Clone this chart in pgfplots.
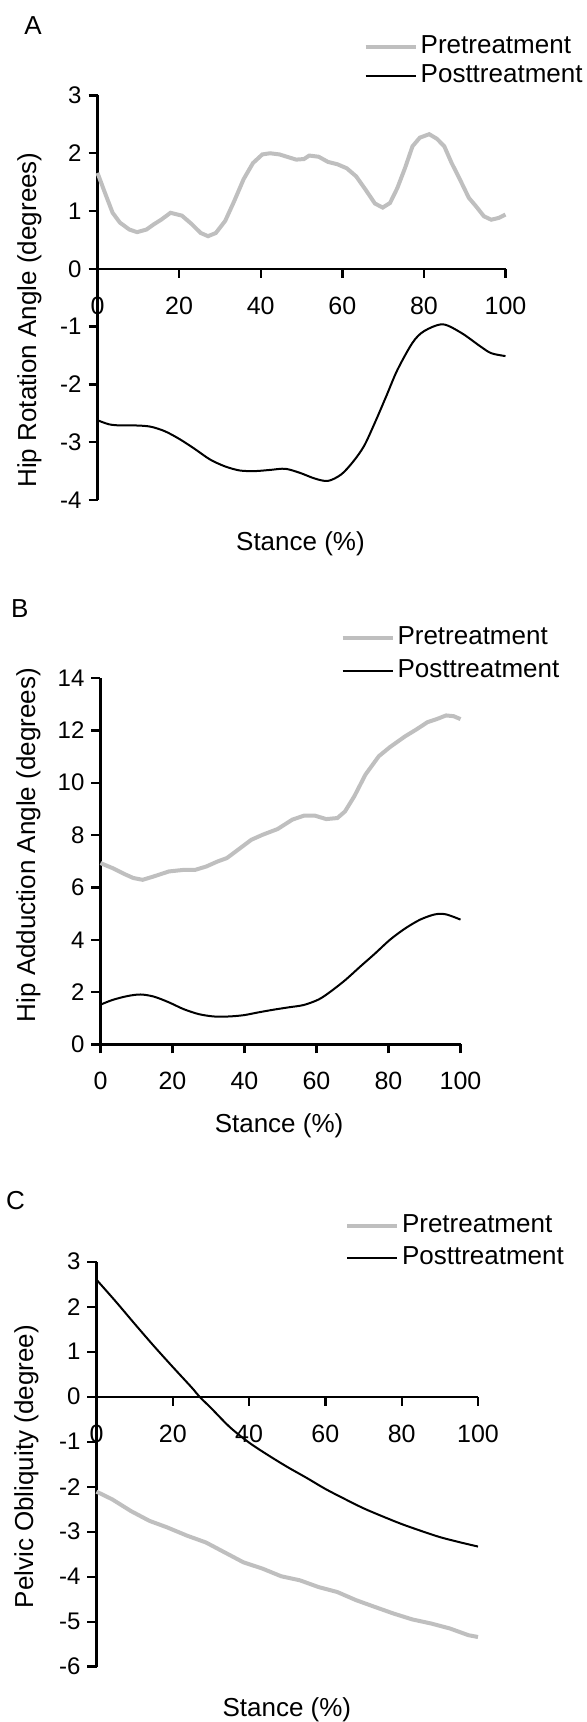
\documentclass[border=0pt]{standalone}
\usepackage{fontspec}
\setmainfont{Liberation Sans}
\usepackage{pgfplots}
\pgfplotsset{compat=1.18}
\definecolor{pregray}{RGB}{191,191,191}

\pgfplotsset{
  gaitaxis/.style={
    scale only axis, anchor=south west,
    xmin=0, xmax=100,
    axis x line=middle, axis y line=left,
    axis line style={-, line width=1.2pt, black},
    every tick/.style={black, line width=1.2pt},
    major tick length=4.5pt,
    tick align=outside,
    hide obscured x ticks=false, hide obscured y ticks=false,
    xtick={0,20,40,60,80,100}, xticklabels={0,20,40,60,80,100},
    x tick label style={font=\fontsize{12.5}{14}\selectfont, anchor=center, yshift=-13.9pt},
    y tick label style={font=\fontsize{12}{14}\selectfont},
    clip=false,
    legend cell align=left,
    legend image code/.code={\draw[##1] (0pt,0pt) -- (25pt,0pt);},
    legend style={draw=none, fill=none, inner sep=0pt, outer sep=0pt, anchor=north west,
      font=\fontsize{13}{15}\selectfont, column sep=1.5pt,
      nodes={inner sep=0pt, text height=9.5pt, text depth=3pt}},
    every axis x label/.style={anchor=center, font=\fontsize{13}{15}\selectfont},
    every axis y label/.style={anchor=center, rotate=90, font=\fontsize{13}{15}\selectfont},
  },
  pre/.style={color=pregray, line width=2pt},
  post/.style={color=black, line width=1pt, smooth},
}

\begin{document}
\begin{tikzpicture}
\useasboundingbox (0,0) rectangle (293pt,861pt);

% ---------------- Panel A ----------------
\begin{axis}[gaitaxis, at={(48.75pt,611pt)}, width=204pt, height=202.25pt,
  ymin=-4, ymax=3, ytick={-4,-3,-2,-1,0,1,2,3}, yticklabels={-4,-3,-2,-1,0,1,2,3},
  xlabel={Stance (\%)}, ylabel={Hip Rotation Angle (degrees)},
  xlabel style={at={(axis description cs:0.4975,-0.109)}},
  ylabel style={at={(axis description cs:-0.1667,0.445)}},
  legend style={at={(axis description cs:0.6525,1.151)}, row sep=2pt}]
\addplot[pre] coordinates {
(0,1.66) (1.8,1.32) (3.7,0.97) (5.5,0.80) (7.8,0.68) (9.7,0.635) (12,0.68) (13.8,0.77)
(15.6,0.85) (17.9,0.97) (20.7,0.92) (23,0.78) (25.3,0.62) (27.1,0.565) (29,0.62) (31.3,0.83)
(33.5,1.17) (35.8,1.55) (38.1,1.83) (40.4,1.98) (42.3,2.0) (44.6,1.98) (46.4,1.94) (48.7,1.89)
(50.6,1.90) (51.9,1.96) (54.2,1.94) (56.5,1.85) (58.8,1.81) (61.1,1.74) (63.4,1.60) (65.7,1.37)
(68,1.13) (69.9,1.06) (71.7,1.14) (73.5,1.40) (75.4,1.75) (77.2,2.12) (79,2.27) (81.3,2.33)
(83.2,2.25) (85,2.12) (86.8,1.83) (88.6,1.58) (91,1.23) (92.8,1.08) (94.7,0.91) (96.5,0.85)
(98.3,0.88) (100,0.94)};
\addlegendentry{Pretreatment}
\addplot[post] coordinates {
(0,-2.62) (2.8,-2.69) (5.5,-2.71) (9.2,-2.71) (12.9,-2.73) (16.5,-2.81) (20.2,-2.95)
(23.9,-3.12) (27.6,-3.30) (31.3,-3.42) (34.9,-3.49) (38.6,-3.50) (42.3,-3.48) (46,-3.46)
(49.6,-3.53) (53.3,-3.63) (56.5,-3.67) (59.7,-3.56) (62.5,-3.35) (65.3,-3.07) (68,-2.66)
(70.8,-2.20) (73.5,-1.75) (77.2,-1.28) (80,-1.08) (84.6,-0.96) (89.2,-1.11) (93.8,-1.34)
(96.5,-1.46) (100,-1.51)};
\addlegendentry{Posttreatment}
\end{axis}

% ---------------- Panel B ----------------
\begin{axis}[gaitaxis, at={(50.25pt,338.75pt)}, width=180pt, height=183.25pt,
  ymin=0, ymax=14, ytick={0,2,4,6,8,10,12,14}, yticklabels={0,2,4,6,8,10,12,14},
  xlabel={Stance (\%)}, ylabel={Hip Adduction Angle (degrees)},
  xlabel style={at={(axis description cs:0.496,-0.222)}},
  ylabel style={at={(axis description cs:-0.2,0.544)}},
  legend style={at={(axis description cs:0.6667,1.142)}, row sep=3.8pt}]
\addplot[pre] coordinates {
(0,6.93) (3.3,6.74) (6.5,6.52) (9.1,6.36) (11.7,6.29) (14.8,6.42) (19,6.61) (23.1,6.67)
(26.3,6.67) (29.4,6.80) (32.5,6.99) (35.1,7.12) (38.8,7.50) (41.9,7.82) (45,8.01) (49.2,8.23)
(53.3,8.59) (56.5,8.74) (59.6,8.74) (62.7,8.61) (65.8,8.65) (67.9,8.90) (70.5,9.48) (73.6,10.31)
(77.3,11.01) (80.4,11.36) (84.6,11.77) (87.7,12.03) (90.8,12.31) (93.4,12.43) (96,12.57)
(98.1,12.54) (100,12.43)};
\addlegendentry{Pretreatment}
\addplot[post] coordinates {
(0,1.52) (3.3,1.70) (7.5,1.85) (11.1,1.91) (14.8,1.83) (19,1.61) (23.1,1.35) (27.3,1.16)
(31.5,1.07) (35.6,1.07) (39.8,1.12) (44,1.23) (48.1,1.33) (52.3,1.42) (56.5,1.51) (60.6,1.72)
(63.7,2.0) (67.9,2.45) (72.1,2.97) (76.3,3.48) (80.4,4.0) (84.6,4.43) (88.8,4.77) (92.9,4.97)
(96,4.97) (100,4.77)};
\addlegendentry{Posttreatment}
\end{axis}

% ---------------- Panel C ----------------
\begin{axis}[gaitaxis, at={(48.25pt,27.65pt)}, width=190.75pt, height=202.5pt,
  ymin=-6, ymax=3, ytick={-6,-5,-4,-3,-2,-1,0,1,2,3}, yticklabels={-6,-5,-4,-3,-2,-1,0,1,2,3},
  xlabel={Stance (\%)}, ylabel={Pelvic Obliquity (degree)},
  xlabel style={at={(axis description cs:0.499,-0.107)}},
  ylabel style={at={(axis description cs:-0.1835,0.494)}},
  legend style={at={(axis description cs:0.6514,1.1195)}, row sep=3.5pt}]
\addplot[pre] coordinates {
(0,-2.11) (4.1,-2.28) (9,-2.54) (13.9,-2.76) (18.4,-2.90) (23.8,-3.09) (28.7,-3.24) (33.6,-3.46)
(38.5,-3.68) (43.5,-3.82) (48.4,-3.99) (53.3,-4.08) (58.2,-4.23) (63.1,-4.34) (68,-4.52)
(72.9,-4.67) (77.9,-4.82) (82.8,-4.95) (87.7,-5.04) (92.6,-5.15) (97.5,-5.30) (100,-5.34)};
\addlegendentry{Pretreatment}
\addplot[post] coordinates {
(0,2.60) (5,2.12) (10,1.62) (15,1.13) (20,0.66) (25,0.20) (27,0.0) (30,-0.25) (35,-0.68)
(40,-1.02) (45,-1.30) (50,-1.56) (55,-1.80) (60,-2.05) (65,-2.27) (70,-2.48) (75,-2.66)
(80,-2.83) (85,-2.98) (90,-3.12) (95,-3.23) (100,-3.33)};
\addlegendentry{Posttreatment}
\end{axis}

\node[font=\fontsize{13}{15}\selectfont] at (16.5pt,848.25pt) {A};
\node[font=\fontsize{13}{15}\selectfont] at (9.85pt,556.75pt) {B};
\node[font=\fontsize{13}{15}\selectfont] at (7.75pt,260.5pt) {C};
\end{tikzpicture}
\end{document}
